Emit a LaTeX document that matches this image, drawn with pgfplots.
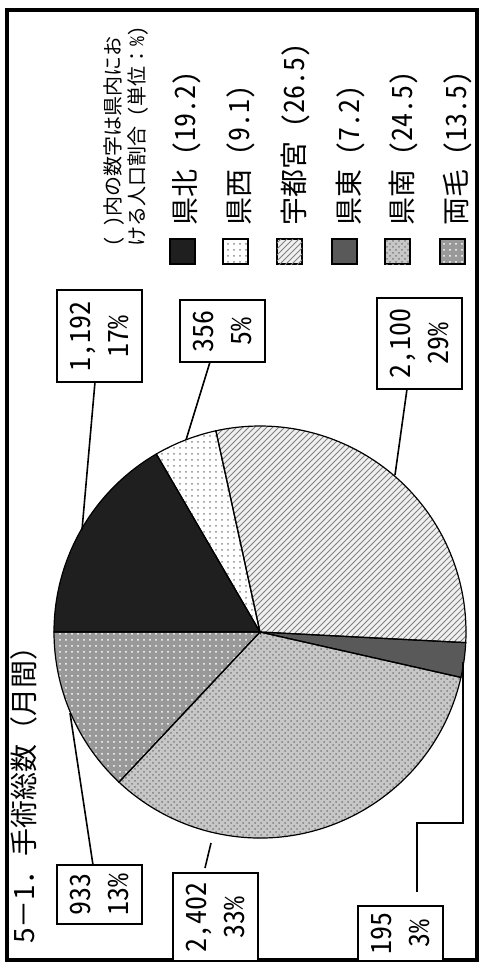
\documentclass[border=0pt]{standalone}
\usepackage{fontspec}
\setmainfont{Noto Sans CJK JP}[RawFeature=+hwid]
\newfontfamily\jpfw{Noto Sans CJK JP}
\usepackage{pgfplots}
\pgfplotsset{compat=1.18}
\usepackage{pgfplotstable}
\usetikzlibrary{patterns}

\pgfplotstableread{
region count
1 1192
2 356
3 2100
4 195
5 2402
6 933
}\piedata

\tikzset{
 s1/.style={fill=black!88},
 s2/.style={fill=white, postaction={pattern=dots, pattern color=black!45}},
 s3/.style={fill=black!6, postaction={pattern=north east lines, pattern color=black!50}},
 s4/.style={fill=black!65},
 s5/.style={fill=black!22, postaction={pattern=crosshatch dots, pattern color=black!50}},
 s6/.style={fill=black!40, postaction={pattern=dots, pattern color=white}},
 box/.style={draw, fill=white, line width=0.9pt, rotate=90, minimum height=42.5pt, inner sep=0pt, align=center, font=\fontsize{14}{19}\selectfont},
 leg/.style={rotate=90, anchor=west, inner sep=0pt, font=\fontsize{14}{16}\selectfont},
}
\newcommand\slice[3]{\fill[#1] (axis cs:260,632) -- ++(#2:103pt) arc[start angle=#2,end angle=#3,radius=103pt] -- cycle;}
\newcommand\sliceline[2]{\draw[line width=0.6pt] (axis cs:260,632) -- ++(#1:103pt) arc[start angle=#1,end angle=#2,radius=103pt] -- cycle;}

\begin{document}
\begin{tikzpicture}
\pgfplotstablegetelem{0}{count}\of\piedata \let\vA\pgfplotsretval
\pgfplotstablegetelem{1}{count}\of\piedata \let\vB\pgfplotsretval
\pgfplotstablegetelem{2}{count}\of\piedata \let\vC\pgfplotsretval
\pgfplotstablegetelem{3}{count}\of\piedata \let\vD\pgfplotsretval
\pgfplotstablegetelem{4}{count}\of\piedata \let\vE\pgfplotsretval
\pgfplotstablegetelem{5}{count}\of\piedata \let\vF\pgfplotsretval
\pgfmathsetmacro\tot{\vA+\vB+\vC+\vD+\vE+\vF}
\pgfmathsetmacro\aA{180}
\pgfmathsetmacro\aB{\aA-360*(\vA/\tot)}
\pgfmathsetmacro\aC{\aB-360*(\vB/\tot)}
\pgfmathsetmacro\aD{\aC-360*(\vC/\tot)}
\pgfmathsetmacro\aE{\aD-360*(\vD/\tot)}
\pgfmathsetmacro\aF{\aE-360*(\vE/\tot)}
\pgfmathsetmacro\aG{\aF-360*(\vF/\tot)}
\begin{axis}[scale only axis, width=240pt, height=482pt,
  xmin=0, xmax=480, ymin=0, ymax=964, y dir=reverse,
  hide axis, clip=false]
\path (axis cs:0,0) rectangle (axis cs:480,964);
% frame
\draw[line width=2pt] (axis cs:7,10) rectangle (axis cs:477,960);
% title
\node[rotate=90, anchor=west, inner sep=0pt, font=\jpfw\fontsize{14}{16}\selectfont] at (axis cs:24,944) {5－1．手術総数（月間）};
% pie
\slice{s1}{\aA}{\aB}
\slice{s2}{\aB}{\aC}
\slice{s3}{\aC}{\aD}
\slice{s4}{\aD}{\aE}
\slice{s5}{\aE}{\aF}
\slice{s6}{\aF}{\aG}
\sliceline{\aA}{\aB}
\sliceline{\aB}{\aC}
\sliceline{\aC}{\aD}
\sliceline{\aD}{\aE}
\sliceline{\aE}{\aF}
\sliceline{\aF}{\aG}
% leader lines
\addplot[black, line width=0.8pt, no marks] coordinates {(95,382) (82,530)};
\addplot[black, line width=0.8pt, no marks] coordinates {(210,362) (186,440)};
\addplot[black, line width=0.8pt, no marks] coordinates {(407,389) (395,475)};
\addplot[black, line width=0.8pt, no marks] coordinates {(93,865) (70,713)};
\addplot[black, line width=0.8pt, no marks] coordinates {(205,868) (211,843)};
\addplot[black, line width=0.8pt, no marks] coordinates {(417,892) (417,823) (463,823) (463,662)};
% value boxes
\node[box, minimum width=46pt] at (axis cs:99.5,336) {1,192\\17\%};
\node[box, minimum width=31pt] at (axis cs:222.5,331) {356\\5\%};
\node[box, minimum width=45.5pt] at (axis cs:419.5,343.5) {2,100\\29\%};
\node[box, minimum width=29.5pt] at (axis cs:99.5,894.5) {933\\13\%};
\node[box, minimum width=44pt] at (axis cs:215.5,917) {2,402\\33\%};
\node[box, minimum width=27.5pt] at (axis cs:400.5,933.5) {195\\3\%};
% legend header
\node[rotate=90, anchor=north west, inner sep=0pt, align=left, font=\fontsize{10}{12}\selectfont] at (axis cs:103,247) {( )内の数字は県内にお\\ける人口割合 (単位{\jpfw ：}\%)};
% legend swatches
\draw[s1, draw=black, line width=0.6pt] (axis cs:170,239) rectangle (axis cs:195,264);
\draw[s2, draw=black, line width=0.6pt] (axis cs:223,239) rectangle (axis cs:248,264);
\draw[s3, draw=black, line width=0.6pt] (axis cs:277,239) rectangle (axis cs:302,264);
\draw[s4, draw=black, line width=0.6pt] (axis cs:332,239) rectangle (axis cs:357,264);
\draw[s5, draw=black, line width=0.6pt] (axis cs:385,239) rectangle (axis cs:410,264);
\draw[s6, draw=black, line width=0.6pt] (axis cs:440,239) rectangle (axis cs:465,264);
% legend labels
\node[leg] at (axis cs:187,226) {県北 (19.2)};
\node[leg] at (axis cs:241,226) {県西 (9.1)};
\node[leg] at (axis cs:295,226) {宇都宮 (26.5)};
\node[leg] at (axis cs:350,226) {県東 (7.2)};
\node[leg] at (axis cs:403,226) {県南 (24.5)};
\node[leg] at (axis cs:458,226) {両毛 (13.5)};
\end{axis}
\end{tikzpicture}
\end{document}
